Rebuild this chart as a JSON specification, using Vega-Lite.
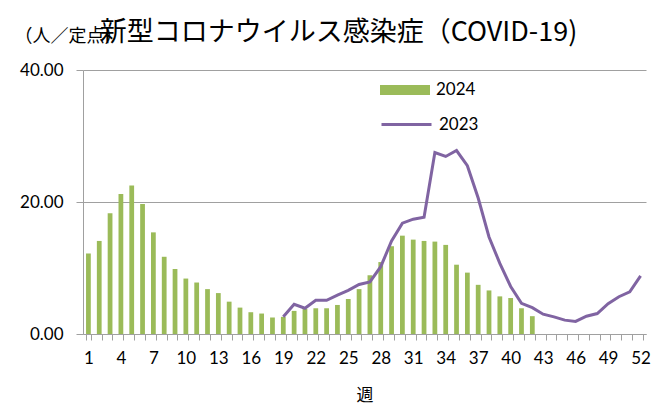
{
  "$schema": "https://vega.github.io/schema/vega-lite/v6.json",
  "width": 563,
  "height": 264,
  "autosize": {"type": "none"},
  "padding": {"left": 83, "top": 70, "right": 7, "bottom": 71},
  "background": "white",
  "title": {
    "text": "新型コロナウイルス感染症（COVID-19)",
    "font": "Noto Sans CJK JP",
    "fontSize": 27,
    "fontWeight": "normal",
    "color": "#000000",
    "anchor": "middle",
    "dx": -26,
    "dy": 20,
    "offset": 0
  },
  "config": {
    "view": {"stroke": null},
    "font": "Lato",
    "axis": {"labelFont": "Lato", "labelColor": "#000000", "labelFontSize": 17, "titleFontWeight": "normal"}
  },
  "datasets": {
    "d2024": [
      {"week": 1, "year": "2024", "value": 12.2},
      {"week": 2, "year": "2024", "value": 14.1},
      {"week": 3, "year": "2024", "value": 18.3},
      {"week": 4, "year": "2024", "value": 21.2},
      {"week": 5, "year": "2024", "value": 22.5},
      {"week": 6, "year": "2024", "value": 19.7},
      {"week": 7, "year": "2024", "value": 15.4},
      {"week": 8, "year": "2024", "value": 11.7},
      {"week": 9, "year": "2024", "value": 9.85},
      {"week": 10, "year": "2024", "value": 8.4},
      {"week": 11, "year": "2024", "value": 7.8},
      {"week": 12, "year": "2024", "value": 6.8},
      {"week": 13, "year": "2024", "value": 6.2},
      {"week": 14, "year": "2024", "value": 4.9},
      {"week": 15, "year": "2024", "value": 4.0},
      {"week": 16, "year": "2024", "value": 3.3},
      {"week": 17, "year": "2024", "value": 3.1},
      {"week": 18, "year": "2024", "value": 2.5},
      {"week": 19, "year": "2024", "value": 2.6},
      {"week": 20, "year": "2024", "value": 3.5},
      {"week": 21, "year": "2024", "value": 3.8},
      {"week": 22, "year": "2024", "value": 3.9},
      {"week": 23, "year": "2024", "value": 3.9},
      {"week": 24, "year": "2024", "value": 4.4},
      {"week": 25, "year": "2024", "value": 5.3},
      {"week": 26, "year": "2024", "value": 6.8},
      {"week": 27, "year": "2024", "value": 8.9},
      {"week": 28, "year": "2024", "value": 10.9},
      {"week": 29, "year": "2024", "value": 13.3},
      {"week": 30, "year": "2024", "value": 14.9},
      {"week": 31, "year": "2024", "value": 14.3},
      {"week": 32, "year": "2024", "value": 14.1},
      {"week": 33, "year": "2024", "value": 14.0},
      {"week": 34, "year": "2024", "value": 13.5},
      {"week": 35, "year": "2024", "value": 10.5},
      {"week": 36, "year": "2024", "value": 9.3},
      {"week": 37, "year": "2024", "value": 7.45},
      {"week": 38, "year": "2024", "value": 6.6},
      {"week": 39, "year": "2024", "value": 5.7},
      {"week": 40, "year": "2024", "value": 5.45},
      {"week": 41, "year": "2024", "value": 3.9},
      {"week": 42, "year": "2024", "value": 2.7}
    ],
    "d2023": [
      {"week": 19, "year": "2023", "value": 2.6},
      {"week": 20, "year": "2023", "value": 4.5},
      {"week": 21, "year": "2023", "value": 3.9},
      {"week": 22, "year": "2023", "value": 5.1},
      {"week": 23, "year": "2023", "value": 5.1},
      {"week": 24, "year": "2023", "value": 5.9},
      {"week": 25, "year": "2023", "value": 6.6},
      {"week": 26, "year": "2023", "value": 7.5},
      {"week": 27, "year": "2023", "value": 7.9},
      {"week": 28, "year": "2023", "value": 10.2},
      {"week": 29, "year": "2023", "value": 14.1},
      {"week": 30, "year": "2023", "value": 16.8},
      {"week": 31, "year": "2023", "value": 17.4},
      {"week": 32, "year": "2023", "value": 17.7},
      {"week": 33, "year": "2023", "value": 27.5},
      {"week": 34, "year": "2023", "value": 26.9},
      {"week": 35, "year": "2023", "value": 27.8},
      {"week": 36, "year": "2023", "value": 25.5},
      {"week": 37, "year": "2023", "value": 20.6},
      {"week": 38, "year": "2023", "value": 14.7},
      {"week": 39, "year": "2023", "value": 10.7},
      {"week": 40, "year": "2023", "value": 7.2},
      {"week": 41, "year": "2023", "value": 4.65},
      {"week": 42, "year": "2023", "value": 4.0},
      {"week": 43, "year": "2023", "value": 3.0},
      {"week": 44, "year": "2023", "value": 2.6},
      {"week": 45, "year": "2023", "value": 2.1},
      {"week": 46, "year": "2023", "value": 1.9},
      {"week": 47, "year": "2023", "value": 2.7},
      {"week": 48, "year": "2023", "value": 3.1},
      {"week": 49, "year": "2023", "value": 4.6},
      {"week": 50, "year": "2023", "value": 5.65},
      {"week": 51, "year": "2023", "value": 6.4},
      {"week": 52, "year": "2023", "value": 8.8}
    ]
  },
  "encoding": {
    "x": {
      "field": "week",
      "type": "ordinal",
      "scale": {
        "domain": [1,2,3,4,5,6,7,8,9,10,11,12,13,14,15,16,17,18,19,20,21,22,23,24,25,26,27,28,29,30,31,32,33,34,35,36,37,38,39,40,41,42,43,44,45,46,47,48,49,50,51,52],
        "paddingInner": 0.56,
        "paddingOuter": 0.28
      },
      "axis": {
        "title": "週",
        "titleFont": "Noto Sans CJK JP",
        "titleFontSize": 17,
        "titleColor": "#000000",
        "titlePadding": 21,
        "labelAngle": 0,
        "labelOverlap": false,
        "labelExpr": "(datum.value - 1) % 3 == 0 ? datum.label : ''",
        "labelPadding": 10,
        "tickBand": "extent",
        "tickSize": 6,
        "tickColor": "#a0a0a0",
        "domainColor": "#a0a0a0",
        "grid": false
      }
    },
    "y": {
      "field": "value",
      "type": "quantitative",
      "scale": {"domain": [0, 40]},
      "axis": {
        "values": [0, 20, 40],
        "format": ".2f",
        "title": "（人／定点）",
        "titleFont": "Noto Sans CJK JP",
        "titleFontSize": 18,
        "titleColor": "#000000",
        "titleAngle": 0,
        "titleAlign": "left",
        "titleBaseline": "middle",
        "titleX": -69,
        "titleY": -34,
        "labelPadding": 13,
        "tickSize": 7,
        "tickColor": "#a0a0a0",
        "domainColor": "#a0a0a0",
        "grid": true,
        "gridColor": "#a0a0a0",
        "gridWidth": 1
      }
    }
  },
  "layer": [
    {
      "data": {"name": "d2024"},
      "mark": {"type": "bar"},
      "encoding": {
        "color": {
          "field": "year",
          "type": "nominal",
          "scale": {"domain": ["2024"], "range": ["#9bbb59"]},
          "legend": {
            "title": null,
            "orient": "none",
            "legendX": 297,
            "legendY": -5,
            "symbolType": "M-1,-0.2H1V0.2H-1Z",
            "symbolSize": 2500,
            "symbolStrokeWidth": 0,
            "labelFont": "Lato",
            "labelFontSize": 17,
            "labelColor": "#000000",
            "labelOffset": 6
          }
        }
      }
    },
    {
      "data": {"name": "d2023"},
      "mark": {"type": "line", "strokeWidth": 3},
      "encoding": {
        "stroke": {
          "field": "year",
          "type": "nominal",
          "scale": {"domain": ["2023"], "range": ["#8064a2"]},
          "legend": {
            "title": null,
            "orient": "none",
            "legendX": 297,
            "legendY": 28,
            "symbolType": "stroke",
            "symbolSize": 2500,
            "symbolStrokeWidth": 3,
            "labelFont": "Lato",
            "labelFontSize": 17,
            "labelColor": "#000000",
            "labelOffset": 6
          }
        }
      }
    }
  ]
}
